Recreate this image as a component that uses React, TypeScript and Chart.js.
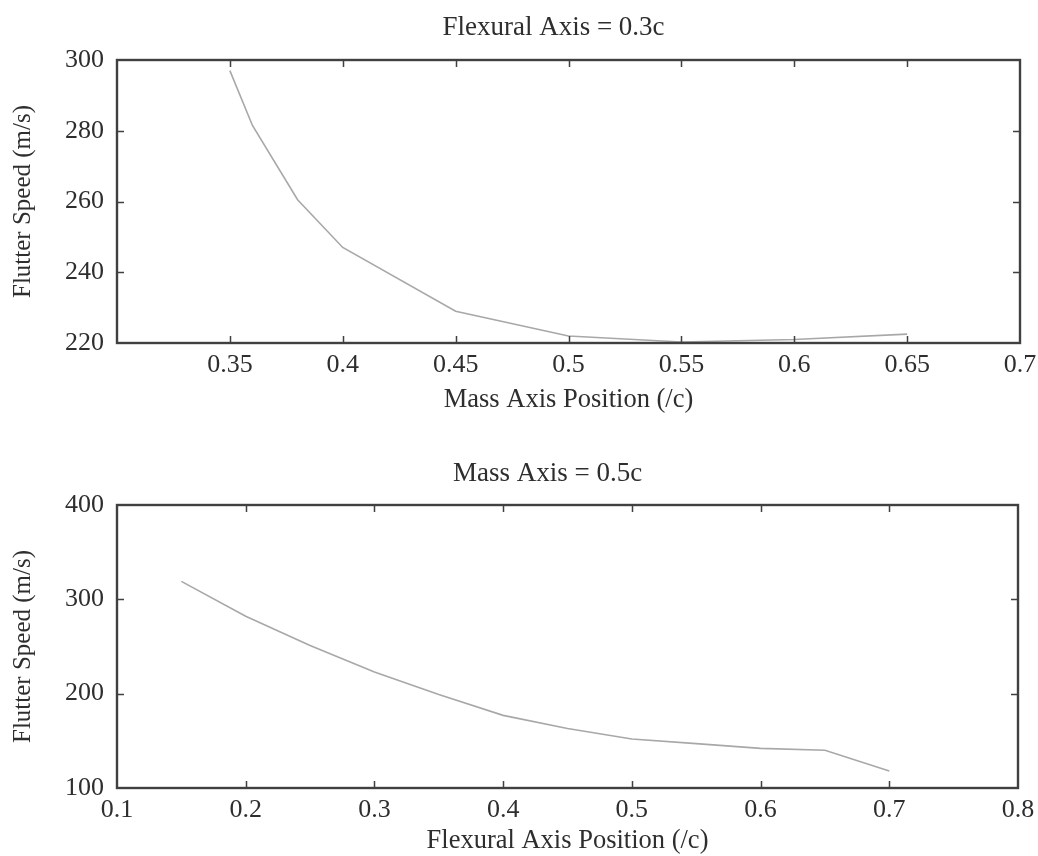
import React, { useEffect, useRef } from "react";
import { Chart, registerables } from "chart.js";

Chart.register(...registerables);

// Flutter speed vs. mass axis position (flexural axis fixed at 0.3c)
const massAxisPositions = [0.35, 0.36, 0.38, 0.4, 0.45, 0.5, 0.55, 0.6, 0.65];
const massAxisFlutterSpeeds = [297, 281.5, 260.5, 247, 229, 222, 220.3, 221, 222.5];

// Flutter speed vs. flexural axis position (mass axis fixed at 0.5c)
const flexAxisPositions = [0.15, 0.2, 0.25, 0.3, 0.35, 0.4, 0.45, 0.5, 0.55, 0.6, 0.65, 0.7];
const flexAxisFlutterSpeeds = [319, 282, 251, 223, 199, 177, 163, 152, 147, 142, 140, 118];

const TOP_TITLE = "Flexural Axis = 0.3c";
const BOTTOM_TITLE = "Mass Axis = 0.5c";
const TOP_X_LABEL = "Mass Axis Position (/c)";
const BOTTOM_X_LABEL = "Flexural Axis Position (/c)";
const Y_LABEL = "Flutter Speed (m/s)";

const FONT = "'Liberation Serif', 'Times New Roman', serif";
const TEXT = "#2e2e2e";
const FRAME = "#404040";
const LINE = "#a8a8a8";

// Boxed frame with short inward ticks on all four sides, plus the panel heading
const framePlugin = {
  id: "boxFrame",
  afterDraw(chart: any, _args: any, opts: any) {
    const { ctx, chartArea: a, scales } = chart;
    const len = 7;
    ctx.save();
    ctx.strokeStyle = FRAME;
    ctx.lineWidth = 1.5;
    ctx.beginPath();
    scales.x.ticks.forEach((t: any) => {
      const px = Math.round(scales.x.getPixelForValue(t.value)) + 0.5;
      if (px <= a.left + 1 || px >= a.right - 1) return;
      ctx.moveTo(px, a.bottom);
      ctx.lineTo(px, a.bottom - len);
      ctx.moveTo(px, a.top);
      ctx.lineTo(px, a.top + len);
    });
    scales.y.ticks.forEach((t: any) => {
      const py = Math.round(scales.y.getPixelForValue(t.value)) + 0.5;
      if (py <= a.top + 1 || py >= a.bottom - 1) return;
      ctx.moveTo(a.left, py);
      ctx.lineTo(a.left + len, py);
      ctx.moveTo(a.right, py);
      ctx.lineTo(a.right - len, py);
    });
    ctx.stroke();
    ctx.lineWidth = 2.4;
    ctx.strokeRect(a.left, a.top, a.right - a.left, a.bottom - a.top);

    if (opts && opts.text) {
      ctx.fillStyle = TEXT;
      ctx.font = `27px ${FONT}`;
      ctx.textAlign = "center";
      ctx.textBaseline = "alphabetic";
      ctx.fillText(opts.text, (a.left + a.right) / 2 + opts.dx, opts.baseline);
    }
    ctx.restore();
  },
};

const fmt = (v: number) => String(Number(v.toFixed(2)));

type PanelSpec = {
  xs: number[];
  ys: number[];
  title: string;
  titleBaseline: number;
  titleDx: number;
  xLabel: string;
  xMin: number;
  xMax: number;
  xStep: number;
  yMin: number;
  yMax: number;
  yStep: number;
  hideFirstX: boolean;
  height: number;
  plotTop: number;
  xAxisHeight: number;
  xTickPad: number;
  xTitlePad: { top: number; bottom: number };
  rightPad: number;
};

function Panel({ spec }: { spec: PanelSpec }) {
  const ref = useRef<HTMLCanvasElement | null>(null);
  useEffect(() => {
    if (!ref.current) return;
    const chart = new Chart(ref.current, {
      type: "line",
      data: {
        datasets: [
          {
            data: spec.xs.map((x, i) => ({ x, y: spec.ys[i] })),
            borderColor: LINE,
            borderWidth: 1.6,
            pointRadius: 0,
            fill: false,
            tension: 0,
          },
        ],
      },
      options: {
        animation: false,
        responsive: false,
        maintainAspectRatio: false,
        layout: { padding: { left: 0, right: spec.rightPad, top: spec.plotTop, bottom: 0 } },
        plugins: {
          legend: { display: false },
          tooltip: { enabled: false },
          title: { display: false },
          boxFrame: { text: spec.title, baseline: spec.titleBaseline, dx: spec.titleDx },
        },
        scales: {
          x: {
            type: "linear",
            min: spec.xMin,
            max: spec.xMax,
            grid: { display: false, drawTicks: false },
            border: { display: false },
            ticks: {
              stepSize: spec.xStep,
              color: TEXT,
              padding: spec.xTickPad,
              maxRotation: 0,
              autoSkip: false,
              font: { family: FONT, size: 26 },
              callback: (v: any) => {
                const n = Number(v);
                if (spec.hideFirstX && Math.abs(n - spec.xMin) < 1e-9) return "";
                return fmt(n);
              },
            },
            title: {
              display: true,
              text: spec.xLabel,
              color: TEXT,
              font: { family: FONT, size: 26.5 },
              padding: spec.xTitlePad,
            },
            afterFit: (s: any) => {
              s.height = spec.xAxisHeight;
              s.paddingLeft = 0;
              s.paddingRight = 0;
            },
          },
          y: {
            type: "linear",
            min: spec.yMin,
            max: spec.yMax,
            grid: { display: false, drawTicks: false },
            border: { display: false },
            ticks: {
              stepSize: spec.yStep,
              color: TEXT,
              padding: 13,
              font: { family: FONT, size: 26 },
              callback: (v: any) => String(v),
            },
            title: {
              display: true,
              text: Y_LABEL,
              color: TEXT,
              font: { family: FONT, size: 25 },
              padding: { top: 8, bottom: 0 },
            },
            afterFit: (s: any) => {
              s.width = 117;
              s.paddingTop = 0;
              s.paddingBottom = 0;
            },
          },
        },
      },
      plugins: [framePlugin],
    } as any);
    return () => chart.destroy();
  }, [spec]);
  return (
    <canvas
      ref={ref}
      width={1038}
      height={spec.height}
      style={{ display: "block", width: 1038, height: spec.height }}
    />
  );
}

const topSpec: PanelSpec = {
  xs: massAxisPositions,
  ys: massAxisFlutterSpeeds,
  title: TOP_TITLE,
  titleBaseline: 35,
  titleDx: -15,
  xLabel: TOP_X_LABEL,
  xMin: 0.3,
  xMax: 0.7,
  xStep: 0.05,
  yMin: 220,
  yMax: 300,
  yStep: 20,
  hideFirstX: true,
  height: 430,
  plotTop: 60,
  xAxisHeight: 87,
  xTickPad: 6.5,
  xTitlePad: { top: 0, bottom: 14.5 },
  rightPad: 18,
};

const bottomSpec: PanelSpec = {
  xs: flexAxisPositions,
  ys: flexAxisFlutterSpeeds,
  title: BOTTOM_TITLE,
  titleBaseline: 51,
  titleDx: -20,
  xLabel: BOTTOM_X_LABEL,
  xMin: 0.1,
  xMax: 0.8,
  xStep: 0.1,
  yMin: 100,
  yMax: 400,
  yStep: 100,
  hideFirstX: false,
  height: 426,
  plotTop: 75,
  xAxisHeight: 68,
  xTickPad: 7,
  xTitlePad: { top: 0, bottom: -1 },
  rightPad: 20,
};

export default function App() {
  return (
    <div style={{ position: "absolute", left: 0, top: 0, width: 1038, height: 856, background: "#fff" }}>
      <Panel spec={topSpec} />
      <Panel spec={bottomSpec} />
    </div>
  );
}
